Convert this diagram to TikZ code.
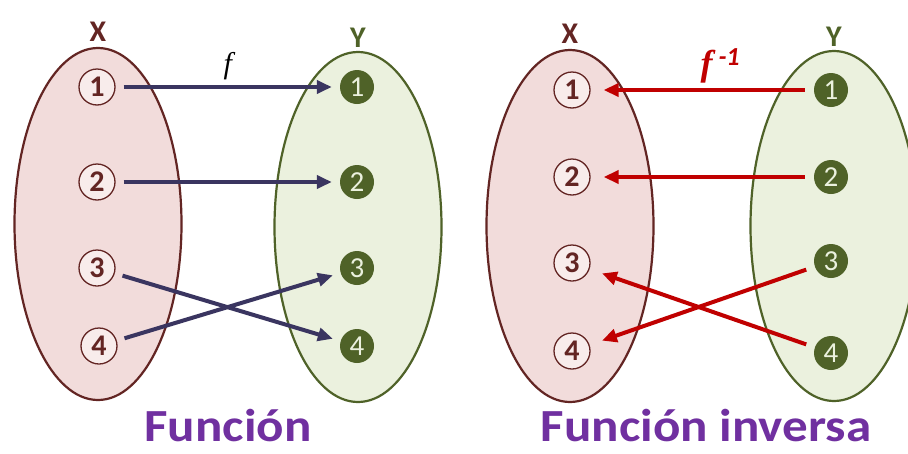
\documentclass[tikz,border=0pt]{standalone}
\usepackage{fontspec}
\setmainfont{Carlito}
\newfontfamily\titlefont[FakeStretch=1.11]{Carlito}
\newfontfamily\mapfont{Liberation Serif}
\usetikzlibrary{arrows.meta,positioning,shapes.geometric}
\definecolor{setpink}{RGB}{242,220,219}
\definecolor{setmaroon}{RGB}{99,37,35}
\definecolor{setlime}{RGB}{235,241,222}
\definecolor{setolive}{RGB}{79,98,40}
\definecolor{mapnavy}{RGB}{58,53,96}
\definecolor{mapred}{RGB}{192,0,0}
\definecolor{titlepurple}{RGB}{112,48,160}

\begin{document}
\begin{tikzpicture}[
    x=1pt, y=-1pt,
    domset/.style={ellipse, draw=setmaroon, fill=setpink, line width=2.2pt,
        minimum width=167pt, minimum height=352pt, inner sep=0pt},
    codset/.style={ellipse, draw=setolive, fill=setlime, line width=2.2pt,
        minimum width=167pt, minimum height=350pt, inner sep=0pt},
    setname/.style={font=\fontsize{30}{30}\selectfont\bfseries},
    dompt/.style={circle, draw=setmaroon, fill=white!45!setpink, line width=1.3pt,
        minimum size=36pt, inner sep=0pt, text=setmaroon,
        font=\fontsize{30}{30}\selectfont\bfseries},
    codpt/.style={circle, fill=setolive, minimum size=34pt, inner sep=0pt,
        text=setlime, font=\fontsize{29}{29}\selectfont},
    arrow/.style={-{Triangle[length=15pt,width=13pt]}, line width=4pt, mapnavy,
        shorten <=8pt, shorten >=8pt},
    invarrow/.style={-{Triangle[length=15pt,width=13pt]}, line width=4pt, mapred,
        shorten <=9pt, shorten >=13pt},
    caption/.style={anchor=base, inner sep=0pt, text=titlepurple,
        font=\titlefont\fontsize{46}{46}\selectfont\bfseries}
]
    \fill[white] (0,0) rectangle (908,453);
    \clip (0,0) rectangle (908,453);

    % function f
    \node[domset] (setXa) at (98,224) {};
    \node[codset] (setYa) at (358,227) {};
    \node[setname, text=setmaroon, above=2pt of setXa] (nameXa) {X};
    \node[setname, text=setolive, above=0pt of setYa] (nameYa) {Y};

    \node[dompt] (xa1) at (97,87) {1};
    \node[dompt] (xa2) at (97,182) {2};
    \node[dompt] (xa3) at (97,268) {3};
    \node[dompt] (xa4) at (99,346) {4};
    \node[codpt] (ya1) at (357,87) {1};
    \node[codpt] (ya2) at (357,182) {2};
    \node[codpt] (ya3) at (357,268) {3};
    \node[codpt] (ya4) at (357,346) {4};

    \draw[arrow] (xa1) -- (ya1) node[midway, above=2pt, text=black,
        font=\mapfont\fontsize{30}{30}\selectfont\itshape] {f};
    \draw[arrow] (xa2) -- (ya2);
    \draw[arrow] (xa3) -- (ya4);
    \draw[arrow] (xa4) -- (ya3);

    \node[caption] (capa) at (228,441) {Función};

    % inverse function
    \node[domset] (setXb) at (570,226) {};
    \node[codset] (setYb) at (834,226) {};
    \node[setname, text=setmaroon, above=2pt of setXb] (nameXb) {X};
    \node[setname, text=setolive, above=0pt of setYb] (nameYb) {Y};

    \node[dompt] (xb1) at (572,90) {1};
    \node[dompt] (xb2) at (572,177) {2};
    \node[dompt] (xb3) at (572,263) {3};
    \node[dompt] (xb4) at (572,351) {4};
    \node[codpt] (yb1) at (831,90) {1};
    \node[codpt] (yb2) at (831,177) {2};
    \node[codpt] (yb3) at (831,261) {3};
    \node[codpt] (yb4) at (831,353) {4};

    \draw[invarrow] (yb1) -- (xb1) node[pos=0.42, above=2pt, text=mapred,
        font=\mapfont\fontsize{36}{36}\selectfont\bfseries\itshape]
        {f\,\raisebox{10pt}{\normalfont\bfseries\itshape\fontsize{26}{26}\selectfont -1}};
    \draw[invarrow] (yb2) -- (xb2);
    \draw[invarrow] (yb4) -- (xb3);
    \draw[invarrow] (yb3) -- (xb4);

    \node[caption] (capb) at (706,441) {Función inversa};
\end{tikzpicture}
\end{document}
